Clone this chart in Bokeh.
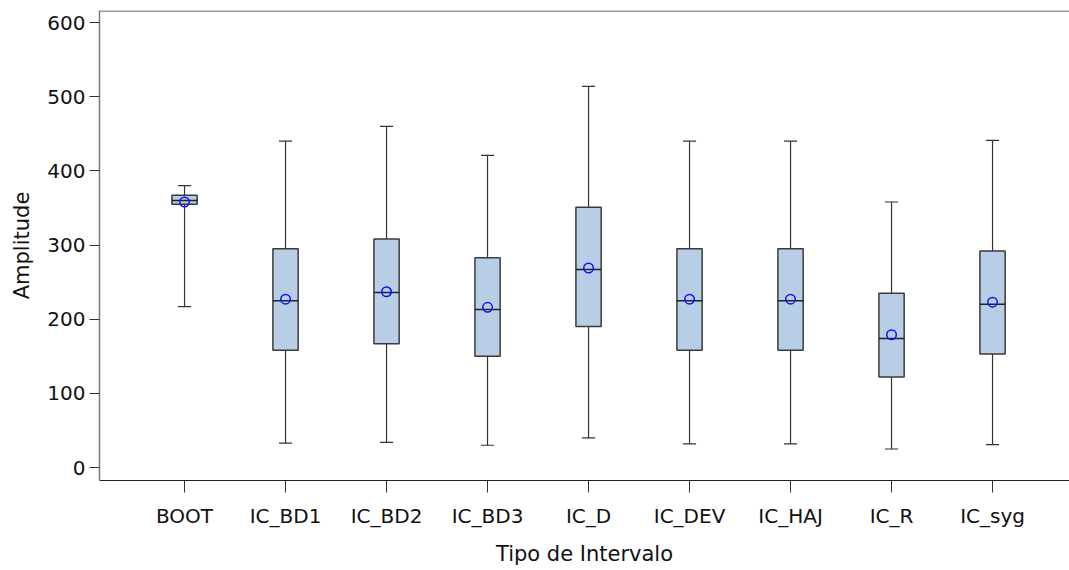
import numpy as np
from bokeh.plotting import figure
from bokeh.models import Range1d, FixedTicker, Span, ColumnDataSource
from bokeh.embed import file_html
from bokeh.resources import INLINE

# Summary statistics of interval amplitude by interval type
categories = ["BOOT", "IC_BD1", "IC_BD2", "IC_BD3", "IC_D", "IC_DEV", "IC_HAJ", "IC_R", "IC_syg"]
whisker_low = [217, 33, 34, 30, 40, 32, 32, 25, 31]
q1 = [355, 158, 167, 150, 190, 158, 158, 122, 153]
median = [360, 225, 236, 213, 267, 225, 225, 174, 220]
q3 = [367, 295, 308, 283, 351, 295, 295, 235, 292]
whisker_high = [380, 440, 460, 421, 514, 440, 440, 358, 441]
mean = [358, 227, 237, 216, 269, 227, 227, 179, 223]

FONT = "DejaVu Sans"
BOX_W = 0.25
CAP_W = 0.13

x = np.arange(len(categories), dtype=float)
src = ColumnDataSource(dict(
    x=x, lo=whisker_low, q1=q1, med=median, q3=q3, hi=whisker_high, mean=mean,
    bl=x - BOX_W / 2, br=x + BOX_W / 2, cl=x - CAP_W / 2, cr=x + CAP_W / 2,
))

p = figure(
    width=1069, height=570,
    x_range=Range1d(-0.842, 8.762), y_range=Range1d(-17.5, 616.2),
    output_backend="svg", toolbar_location=None,
    min_border_left=99, min_border_right=0, min_border_top=10, min_border_bottom=90,
    background_fill_color="white", border_fill_color="white",
)
p.outline_line_color = None
p.xgrid.visible = False
p.ygrid.visible = False

# whiskers and caps
p.segment(x0="x", y0="q3", x1="x", y1="hi", source=src, line_color="#333333", line_width=1.2)
p.segment(x0="x", y0="lo", x1="x", y1="q1", source=src, line_color="#333333", line_width=1.2)
p.segment(x0="cl", y0="hi", x1="cr", y1="hi", source=src, line_color="#333333", line_width=1.2)
p.segment(x0="cl", y0="lo", x1="cr", y1="lo", source=src, line_color="#333333", line_width=1.2)

# boxes
p.vbar(x="x", width=BOX_W, bottom="q1", top="q3", source=src,
       fill_color="#B8CEE6", line_color="#3a3a3a", line_width=1.5)
# medians
p.segment(x0="bl", y0="med", x1="br", y1="med", source=src, line_color="#222222", line_width=1.5)
# means
p.scatter(x="x", y="mean", source=src, marker="circle", size=9.5,
          fill_color=None, line_color="#1010FF", line_width=1.5)

# top frame line
p.add_layout(Span(location=615.5, dimension="width", line_color="#7a7a7a", line_width=1.5))

# axes
p.xaxis.ticker = FixedTicker(ticks=list(x))
p.xaxis.major_label_overrides = {float(i): c for i, c in enumerate(categories)}
p.xaxis.major_label_overrides.update({int(i): c for i, c in enumerate(categories)})
p.yaxis.ticker = FixedTicker(ticks=[0, 100, 200, 300, 400, 500, 600])

p.xaxis.axis_label = "Tipo de Intervalo"
p.yaxis.axis_label = "Amplitude"

for ax in (p.xaxis, p.yaxis):
    ax.minor_tick_line_color = None
    ax.major_tick_in = 0
    ax.major_tick_line_color = "#333333"
    ax.axis_label_text_font = FONT
    ax.axis_label_text_font_style = "normal"
    ax.axis_label_text_font_size = "21px"
    ax.axis_label_text_color = "#111111"
    ax.major_label_text_font = FONT
    ax.major_label_text_color = "#111111"

p.xaxis.axis_line_color = "#222222"
p.xaxis.axis_line_width = 1.2
p.xaxis.major_tick_out = 12
p.xaxis.major_label_text_font_size = "20px"
p.xaxis.major_label_standoff = 11
p.xaxis.axis_label_standoff = 11

p.yaxis.axis_line_color = "#7a7a7a"
p.yaxis.axis_line_width = 1.5
p.yaxis.major_tick_out = 10
p.yaxis.major_label_text_font_size = "20px"
p.yaxis.major_label_standoff = 4
p.yaxis.axis_label_standoff = 10

open("out.html", "w").write(file_html(p, INLINE))
